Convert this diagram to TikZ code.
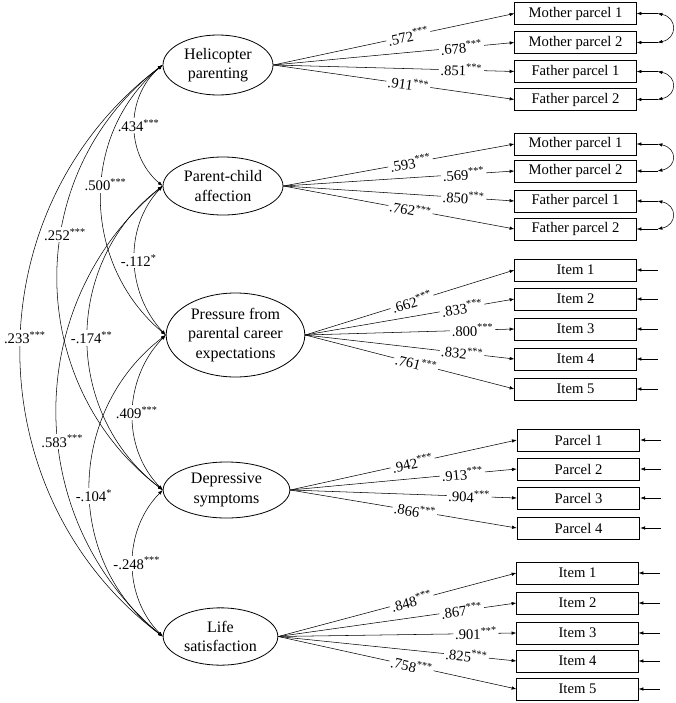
\documentclass[tikz,border=0pt]{standalone}
\usepackage{fontspec}
\setmainfont{Liberation Serif}
\usetikzlibrary{shapes.geometric,arrows.meta}

\begin{document}
\begin{tikzpicture}[x=0.75pt,y=-0.75pt,>={Latex[length=3.6pt,width=2.6pt]},
	lat/.style={draw,ellipse,line width=0.6pt,inner sep=0pt,align=center,font=\fontsize{12}{14.5}\selectfont},
	ind/.style={draw,rectangle,line width=0.6pt,inner sep=0pt,minimum width=91pt,minimum height=16.5pt,font=\fontsize{11}{13}\selectfont},
	lbl/.style={fill=white,inner sep=1.2pt,font=\fontsize{11}{13}\selectfont}]
		\useasboundingbox (0,0) rectangle (675,703);
		\node[lat,minimum width=82.5pt,minimum height=45pt] (hp) at (218,65) {Helicopter\\parenting};
		\node[lat,minimum width=90pt,minimum height=43.5pt] (pc) at (223,186) {Parent-child\\affection};
		\node[lat,minimum width=104pt,minimum height=63pt] (pr) at (235.5,335) {Pressure from\\parental career\\expectations};
		\node[lat,minimum width=95pt,minimum height=42pt] (ds) at (226.5,490) {Depressive\\symptoms};
		\node[lat,minimum width=86pt,minimum height=43pt] (ls) at (220.5,636.5) {Life\\satisfaction};
		\node[ind] (hm1) at (575.5,13.5) {Mother parcel 1};
		\node[ind] (hm2) at (575.5,42.5) {Mother parcel 2};
		\node[ind] (hf1) at (575.5,71.5) {Father parcel 1};
		\node[ind] (hf2) at (575.5,99.5) {Father parcel 2};
		\node[ind] (cm1) at (575.5,144) {Mother parcel 1};
		\node[ind] (cm2) at (575.5,171) {Mother parcel 2};
		\node[ind] (cf1) at (575.5,201) {Father parcel 1};
		\node[ind] (cf2) at (575.5,229) {Father parcel 2};
		\foreach \i/\y in {1/270,2/299,3/329,4/359,5/389}
		\node[ind] (pi\i) at (575.5,\y) {Item \i};
		\foreach \i/\y in {1/440,2/469,3/498,4/528}
		\node[ind,minimum width=92pt] (dp\i) at (578.5,\y) {Parcel \i};
		\foreach \i/\y in {1/573,2/603,3/633,4/661,5/689}
		\node[ind] (li\i) at (577.5,\y) {Item \i};
		\foreach \bx/\val/\ps in {hm1/.572/.56,hm2/.678/.78,hf1/.851/.78,hf2/.911/.56}
		\draw[->] (hp.east) -- node[lbl,sloped,pos=\ps] {\val\textsuperscript{***}} (\bx.west);
		\foreach \bx/\val/\ps in {cm1/.593/.55,cm2/.569/.78,cf1/.850/.78,cf2/.762/.55}
		\draw[->] (pc.east) -- node[lbl,sloped,pos=\ps] {\val\textsuperscript{***}} (\bx.west);
		\foreach \bx/\val/\ps in {pi1/.662/.51,pi2/.833/.75,pi3/.800/.8,pi4/.832/.75,pi5/.761/.53}
		\draw[->] (pr.east) -- node[lbl,sloped,pos=\ps] {\val\textsuperscript{***}} (\bx.west);
		\foreach \bx/\val/\ps in {dp1/.942/.54,dp2/.913/.76,dp3/.904/.79,dp4/.866/.55}
		\draw[->] (ds.east) -- node[lbl,sloped,pos=\ps] {\val\textsuperscript{***}} (\bx.west);
		\foreach \bx/\val/\ps in {li1/.848/.56,li2/.867/.77,li3/.901/.83,li4/.825/.79,li5/.758/.56}
		\draw[->] (ls.east) -- node[lbl,sloped,pos=\ps] {\val\textsuperscript{***}} (\bx.west);
		\foreach \bx in {hm1,hm2,hf1,hf2,cm1,cm2,cf1,cf2,pi1,pi2,pi3,pi4,pi5,dp1,dp2,dp3,dp4,li1,li2,li3,li4,li5}{
		\path (\bx.east) ++(21,0) coordinate (r\bx);
		\draw[->] (r\bx) -- (\bx.east);
		}
		\foreach \a/\b in {hm1/hm2,hf1/hf2,cm1/cm2,cf1/cf2}
		\draw[<->] (r\a) .. controls +(20,4) and +(20,-4) .. (r\b);
		\foreach \a/\b/\dx/\dy/\ps/\val/\sig in {hp/pc/37.3/31.7/.5/.434/***,hp/pr/84/70.4/.45/.500/***,hp/ds/140/107/.41/.252/***,hp/ls/189.3/143.4/.48/.233/***,pc/pr/39.3/41.8/.5/-.112/*,pc/ds/100/76.7/.5/-.174/**,pc/ls/141.3/116.9/.56/.583/***,pr/ds/42/43.1/.5/.409/***,pr/ls/99.3/76/.53/-.104/*,ds/ls/40/40.6/.5/-.248/***}
		\draw[<->] (\a.west) .. controls +(-\dx,\dy) and +(-\dx,-\dy) .. node[lbl,pos=\ps,xshift=3pt] {\val\textsuperscript{\sig}} (\b.west);
	       \end{tikzpicture}
\end{document}
